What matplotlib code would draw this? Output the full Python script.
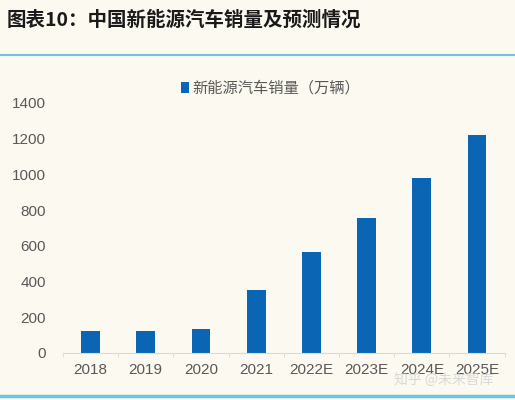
import matplotlib.pyplot as plt
from matplotlib.lines import Line2D

plt.rcParams['font.family'] = ['Liberation Sans', 'Noto Sans CJK SC', 'DejaVu Sans']

years = ['2018', '2019', '2020', '2021', '2022E', '2023E', '2024E', '2025E']
sales = [125, 121, 137, 352, 565, 756, 980, 1220]

bg = '#fcf9f0'
fig = plt.figure(figsize=(5.15, 4.0), dpi=100, facecolor=bg)
ax = fig.add_axes([0.122, 0.1175, 0.858, 0.625], facecolor=bg)

x = range(len(years))
ax.bar(x, sales, width=0.34, color='#0a66b4', label='新能源汽车销量（万辆）')
ax.set_xlim(-0.5, len(years) - 0.5)
ax.set_ylim(0, 1400)
ax.set_yticks(range(0, 1401, 200))
ax.set_xticks(list(x))
ax.set_xticklabels(years)
ax.set_xticks([i + 0.5 for i in range(-1, len(years))], minor=True)
ax.tick_params(axis='both', length=0, labelsize=11, colors='#595959', pad=7)
ax.tick_params(axis='x', which='minor', length=3, color='#d9d9d9')
ax.tick_params(axis='y', pad=12)
for s in ['top', 'right', 'left']:
    ax.spines[s].set_visible(False)
ax.spines['bottom'].set_color('#d9d9d9')
leg = ax.legend(loc='center', bbox_to_anchor=(0.47, 1.06), frameon=False,
                handlelength=0.55, handleheight=0.75, handletextpad=0.2,
                fontsize=11, labelcolor='#595959')
for t in leg.get_texts():
    t.set_family(['Noto Sans CJK SC', 'DejaVu Sans'])

fig.text(0.012, 0.95, '图表10：中国新能源汽车销量及预测情况', fontsize=14,
         fontweight='bold', color='#1a1a1a', va='center',
         family=['Noto Sans CJK SC', 'DejaVu Sans'])
fig.add_artist(Line2D([0, 1], [0.862, 0.862], color='#6ec6dc', lw=1.5,
                      transform=fig.transFigure))
fig.add_artist(Line2D([0, 1], [0.01, 0.01], color='#6ec6dc', lw=2.5,
                      transform=fig.transFigure))
fig.text(0.765, 0.05, '知乎 @未来智库', fontsize=10, color='#d0d0d0', ha='left',
         va='center', alpha=0.8, family=['Noto Sans CJK SC', 'DejaVu Sans'])

fig.savefig('out.png', dpi=100, facecolor=bg)
